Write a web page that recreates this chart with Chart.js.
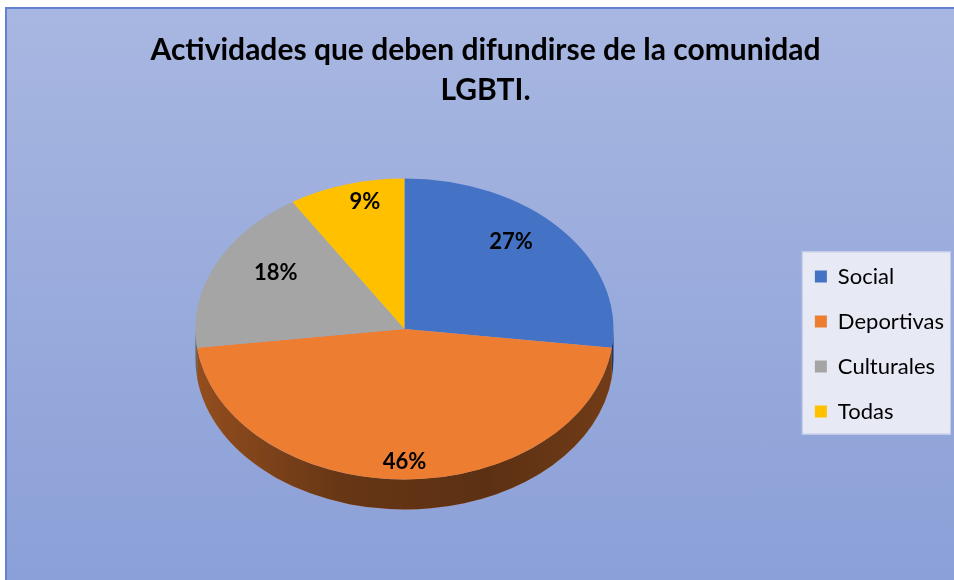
<!DOCTYPE html>
<html lang="es">
<head>
<meta charset="utf-8">
<title>Actividades que deben difundirse de la comunidad LGBTI.</title>
<script src="https://cdn.jsdelivr.net/npm/chart.js@4.4.1/dist/chart.umd.min.js"></script>
<style>
  html, body { margin: 0; padding: 0; background: #fff; }
  #frame {
    position: absolute;
    left: 5px;
    top: 7px;
    width: 947px;
    height: 571px;
    border-top: 2px solid #6282cf;
    border-left: 2px solid #6282cf;
    background: linear-gradient(to bottom, #a8b7e1 0%, #8ba0d8 100%);
  }
  canvas { display: block; }
</style>
</head>
<body>
<div id="frame"><canvas id="chart" width="947" height="571"></canvas></div>
<script>
// Chart data
const chartTitle = ['Actividades que deben difundirse de la comunidad', 'LGBTI.'];
const categories = ['Social', 'Deportivas', 'Culturales', 'Todas'];
const shares = [27, 46, 18, 9];

// Look of the "3D" pie
const sliceColors = ['#4472c4', '#ed7d31', '#a5a5a5', '#ffc000'];
const TILT = 0.72;   // vertical squash of the pie face
const DEPTH = 30;    // thickness of the side wall

// Squashes the pie into an ellipse, adds a side wall, labels and a legend panel
const tiltedPie = {
    id: 'tiltedPie',

    beforeDraw(chart) {
        const ctx = chart.ctx;
        const boxes = chart.legend.legendHitBoxes;
        if (!boxes || !boxes.length) return;
        const last = boxes[boxes.length - 1];
        const left = Math.min(...boxes.map(b => b.left)) - 13;
        const right = Math.min(Math.max(...boxes.map(b => b.left + b.width)) + 7, chart.width - 2);
        const top = boxes[0].top - 14;
        const bottom = last.top + last.height + 12;
        ctx.save();
        ctx.fillStyle = '#e7eaf5';
        ctx.fillRect(left, top, right - left, bottom - top);
        ctx.strokeStyle = '#c3cbe6';
        ctx.lineWidth = 1;
        ctx.strokeRect(left + 0.5, top + 0.5, right - left - 1, bottom - top - 1);
        ctx.restore();
    },

    beforeDatasetsDraw(chart) {
        const ctx = chart.ctx;
        const arcs = chart.getDatasetMeta(0).data;
        const {x, y, outerRadius: r} = arcs[0];
        const cy = y - DEPTH / 2;

        // side wall, only the front half (0..PI) is visible
        const shade = ctx.createLinearGradient(x - r, 0, x + r, 0);
        shade.addColorStop(0, 'rgba(0,0,0,0.38)');
        shade.addColorStop(0.35, 'rgba(0,0,0,0.57)');
        shade.addColorStop(0.7, 'rgba(0,0,0,0.61)');
        shade.addColorStop(1, 'rgba(0,0,0,0.52)');
        ctx.save();
        arcs.forEach((arc, i) => {
            const a = Math.max(arc.startAngle, 0);
            const b = Math.min(arc.endAngle, Math.PI);
            if (a >= b) return;
            ctx.beginPath();
            ctx.ellipse(x, cy, r, r * TILT, 0, a, b);
            ctx.ellipse(x, cy + DEPTH, r, r * TILT, 0, b, a, true);
            ctx.closePath();
            ctx.fillStyle = sliceColors[i];
            ctx.fill();
            ctx.fillStyle = shade;
            ctx.fill();
        });
        ctx.restore();

        // squash the top face
        ctx.save();
        ctx.translate(x, cy);
        ctx.scale(1, TILT);
        ctx.translate(-x, -y);
    },

    afterDatasetsDraw(chart) {
        const ctx = chart.ctx;
        ctx.restore();

        const arcs = chart.getDatasetMeta(0).data;
        ctx.save();
        ctx.font = 'bold 22px Lato';
        ctx.fillStyle = '#000';
        ctx.textAlign = 'center';
        ctx.textBaseline = 'middle';
        arcs.forEach((arc, i) => {
            const mid = (arc.startAngle + arc.endAngle) / 2;
            const cy = arc.y - DEPTH / 2;
            const px = arc.x + Math.cos(mid) * arc.outerRadius * 0.68;
            const py = cy + Math.sin(mid) * arc.outerRadius * TILT * 0.88;
            ctx.fillText(shares[i] + '%', px, py);
        });
        ctx.restore();
    }
};

new Chart(document.getElementById('chart'), {
    type: 'pie',
    data: {
        labels: categories,
        datasets: [{
            data: shares,
            backgroundColor: sliceColors,
            borderWidth: 0,
            radius: 209
        }]
    },
    options: {
        responsive: false,
        animation: false,
        events: [],
        layout: {
            padding: {left: 10, right: 0, top: 0, bottom: 10}
        },
        plugins: {
            title: {
                display: true,
                text: chartTitle,
                color: '#000',
                font: {family: 'Lato', size: 30, weight: 'bold', lineHeight: 1.333},
                padding: {top: 21, bottom: 8}
            },
            legend: {
                position: 'right',
                fullSize: false,
                labels: {
                    boxWidth: 12,
                    boxHeight: 12,
                    padding: 23,
                    color: '#000',
                    font: {family: 'Lato', size: 22}
                }
            },
            tooltip: {enabled: false}
        }
    },
    plugins: [tiltedPie]
});
</script>
</body>
</html>
